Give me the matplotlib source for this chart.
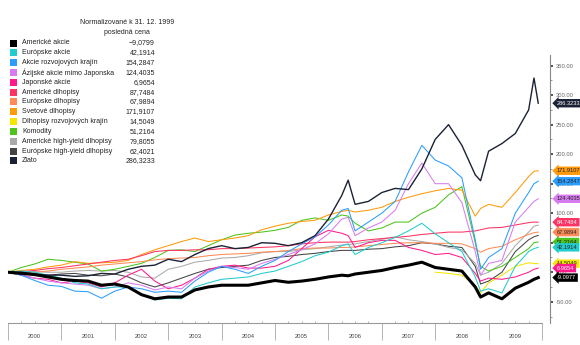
import numpy as np
import matplotlib.pyplot as plt
from matplotlib.patches import Rectangle
from matplotlib.ticker import MultipleLocator, FormatStrFormatter
from matplotlib.transforms import blended_transform_factory

plt.rcParams['font.family'] = ['Liberation Sans', 'DejaVu Sans']

# quarterly dates (decimal years) with a few extra points around the peaks/crash
dates = [2000.00, 2000.25, 2000.50, 2000.75, 2001.00, 2001.25, 2001.50, 2001.75,
         2002.00, 2002.25, 2002.50, 2002.75, 2003.00, 2003.25, 2003.50, 2003.75,
         2004.00, 2004.25, 2004.50, 2004.75, 2005.00, 2005.25, 2005.50, 2005.75,
         2006.00, 2006.25, 2006.37, 2006.50, 2006.75, 2007.00, 2007.25, 2007.50,
         2007.75, 2008.00, 2008.25, 2008.50, 2008.75, 2008.85, 2009.00, 2009.25,
         2009.50, 2009.75, 2009.85, 2009.93]

us_stocks = [0, -2, -4, -8, -12, -14, -15, -22, -20, -25, -38, -45, -42, -42, -30, -25,
             -22, -22, -22, -18, -14, -17, -15, -12, -8, -5, -6, -3, 0, 3, 8, 12,
             17, 8, 5, 2, -25, -42, -35, -45, -27, -17, -12, -9.0977]
eu_stocks = [0, 2, 0, -5, -10, -18, -20, -28, -25, -25, -38, -47, -44, -45, -25, -18,
             -12, -10, -8, -2, 2, 10, 18, 28, 34, 45, 48, 30, 42, 50, 59, 70,
             83, 65, 50, 35, -8, -32, -28, -35, 10, 35, 40, 42.1914]
em_stocks = [0, -5, -14, -22, -24, -32, -33, -44, -32, -25, -28, -34, -32, -34, -15, 0,
             10, 5, -2, 10, 20, 35, 48, 60, 80, 105, 108, 70, 85, 100, 120, 170,
             215, 190, 180, 160, 55, 5, 25, 40, 100, 135, 150, 154.2847]
asia_stocks = [0, -5, -10, -15, -18, -20, -22, -28, -25, -18, -22, -30, -25, -28, -10, 2,
               10, 8, 5, 15, 22, 30, 38, 48, 65, 90, 93, 62, 75, 85, 105, 150,
               185, 150, 150, 118, 35, -5, 15, 20, 85, 110, 120, 124.4035]
jp_stocks = [0, -5, -10, -12, -18, -15, -18, -25, -18, -5, 5, -15, -28, -22, -10, 5,
             10, 12, 7, 7, 10, 20, 40, 60, 71, 66, 62, 42, 50, 54, 54, 42,
             37, 30, 32, 25, -2, -15, -10, -12, -8, 0, 5, 6.9654]
us_bonds = [0, 1, 3, 6, 8, 11, 14, 17, 20, 22, 28, 35, 37, 37, 38, 38,
            40, 40, 41, 42, 43, 45, 48, 50, 51, 51, 51, 52, 55, 57, 59, 61,
            64, 66, 68, 68, 70, 72, 75, 76, 80, 84, 85, 84.7484]
eu_bonds = [0, -1, 0, 2, 5, 7, 9, 12, 14, 16, 18, 21, 23, 24, 25, 28,
            30, 31, 32, 34, 35, 37, 40, 41, 41, 42, 42, 43, 45, 47, 49, 50,
            50, 49, 49, 48, 40, 34, 40, 44, 55, 64, 67, 67.9894]
world_bonds = [0, 3, 5, 9, 12, 18, 15, 16, 17, 20, 30, 38, 45, 52, 58, 52,
               55, 58, 62, 72, 78, 83, 86, 88, 97, 103, 105, 102, 105, 110, 120, 127,
               133, 138, 142, 139, 95, 108, 115, 110, 135, 162, 171, 171.9107]
em_bonds = [np.nan] * 33 + [0, -2, -5, -22, -35, -18, -5, 10, 16, 15, 14.5049]
commodities = [0, 8, 14, 22, 20, 17, 14, 2, 5, 10, 15, 25, 37, 38, 35, 45,
               55, 63, 66, 68, 71, 76, 88, 92, 88, 97, 95, 83, 70, 75, 85, 85,
               100, 110, 131, 145, 50, 10, 2, 10, 25, 40, 50, 51.2164]
us_high_yield = [0, 0, 1, 0, 0, 2, 3, 2, 3, 0, -8, -10, 5, 10, 17, 20,
                 24, 25, 28, 33, 35, 35, 38, 40, 43, 46, 47, 48, 52, 56, 60, 55,
                 52, 48, 42, 38, 15, -5, 0, 15, 45, 68, 78, 79.8055]
eu_high_yield = [0, -2, -3, -5, -3, -2, -5, -6, -3, -8, -18, -25, -18, -10, -2, 5,
                 8, 10, 12, 20, 25, 27, 30, 32, 35, 37, 37, 37, 39, 40, 43, 45,
                 50, 48, 44, 42, 10, -20, -15, 0, 35, 55, 60, 62.4021]
gold = [0, 0, -3, -5, -5, -7, -6, -2, -3, 5, 10, 12, 22, 18, 30, 40,
        45, 40, 42, 50, 49, 45, 50, 62, 90, 130, 156, 115, 120, 135, 142, 140,
        175, 225, 250, 215, 165, 155, 205, 218, 235, 275, 329, 286.3233]

names = ['Americké akcie', 'Európske akcie', 'Akcie rozvojových krajín',
         'Ázijské akcie mimo Japonska', 'Japonské akcie', 'Americké dlhopisy',
         'Európske dlhopisy', 'Svetové dlhopisy', 'Dlhopisy rozvojových krajín',
         'Komodity', 'Americké high-yield dlhopisy', 'Európske high-yield dlhopisy',
         'Zlato']
legend_values = ['−9,0799', '42,1914', '154,2847', '124,4035', '6,9654', '87,7484',
                 '67,9894', '171,9107', '14,5049', '51,2164', '79,8055', '62,4021',
                 '286,3233']
colors = ['#000000', '#22cccc', '#2a9dff', '#d77cf0', '#ff1a8c', '#ff3363',
          '#ff8a55', '#ff9a0a', '#f5e600', '#4cc41c', '#aaaaaa', '#444444', '#1c2236']
all_series = [us_stocks, eu_stocks, em_stocks, asia_stocks, jp_stocks, us_bonds,
              eu_bonds, world_bonds, em_bonds, commodities, us_high_yield,
              eu_high_yield, gold]
# series that get a value tag on the right axis
tagged = [12, 7, 2, 3, 5, 6, 9, 1, 8, 4, 0]
dark_text = {7, 2, 3, 6, 9, 1, 8}

W, H = 580, 345
fig = plt.figure(figsize=(W / 100, H / 100), dpi=100)
ax = fig.add_axes([8 / W, (H - 323) / H, 542 / W, 268 / H])

dates = np.array(dates)
for i in reversed(range(len(names))):
    lw = 2.2 if i == 0 else (1.0 if i == 12 else 0.75)
    ax.plot(dates, all_series[i], color=colors[i], lw=lw, zorder=3 + (i == 0) * 2 + (i == 12))

ax.set_xlim(2000.0, 2010.15)
ax.set_ylim(-86, 368)

for s in ['top', 'left']:
    ax.spines[s].set_visible(False)
ax.spines['right'].set_color('#888888')
ax.spines['right'].set_linewidth(0.8)
ax.spines['bottom'].set_bounds(2000, 2010)
ax.spines['bottom'].set_color('#999999')
ax.spines['bottom'].set_linewidth(0.8)

# right value axis
ax.yaxis.tick_right()
ax.yaxis.set_major_locator(MultipleLocator(50))
ax.yaxis.set_minor_locator(MultipleLocator(25))
ax.yaxis.set_major_formatter(FormatStrFormatter('%.2f'))
ax.tick_params(axis='y', which='major', length=2, width=1.2, color='#333344',
               labelsize=4.2, labelcolor='#666666', pad=2)
ax.tick_params(axis='y', which='minor', length=1.5, width=0.6, color='#888888')

# year bands along the bottom
ax.set_xticks(np.arange(2000, 2011))
ax.set_xticklabels([])
ax.xaxis.set_minor_locator(MultipleLocator(0.25))
ax.tick_params(axis='x', which='major', length=12, width=0.6, color='#aaaaaa', direction='out')
ax.tick_params(axis='x', which='minor', length=1.5, width=0.5, color='#999999', direction='in')
trans = blended_transform_factory(ax.transData, fig.transFigure)
for yr in range(2000, 2010):
    ax.text(yr + 0.5, 1 - 337 / H, str(yr), transform=trans, ha='center', va='center',
            fontsize=4.2, color='#444444')

# value tags on the right axis
for k, i in enumerate(tagged):
    v = all_series[i][-1]
    ax.text(1.0 + 7 / 542, v, '%.4f' % v,
            transform=blended_transform_factory(ax.transAxes, ax.transData),
            ha='left', va='center', fontsize=4.1, clip_on=False, zorder=10 + k,
            color='#222222' if i in dark_text else 'white',
            bbox=dict(boxstyle='larrow,pad=0.3', fc=colors[i], ec='none'))

# legend table in the top left corner
fig.text(127 / W, 1 - 22 / H, 'Normalizované k 31. 12. 1999', ha='center', va='center',
         fontsize=5, color='#222222')
fig.text(127 / W, 1 - 33 / H, 'posledná cena', ha='center', va='center',
         fontsize=5, color='#222222')
for i, (name, val) in enumerate(zip(names, legend_values)):
    y = 43 + 9.83 * i
    fig.patches.append(Rectangle((10 / W, 1 - (y + 3.5) / H), 7 / W, 7 / H,
                                 transform=fig.transFigure, fc=colors[i], ec='none'))
    fig.text(22 / W, 1 - y / H, name, ha='left', va='center', fontsize=5, color='#222222')
    fig.text(155 / W, 1 - y / H, val, ha='right', va='center', fontsize=5, color='#222222')

fig.savefig('out.png', dpi=100)
